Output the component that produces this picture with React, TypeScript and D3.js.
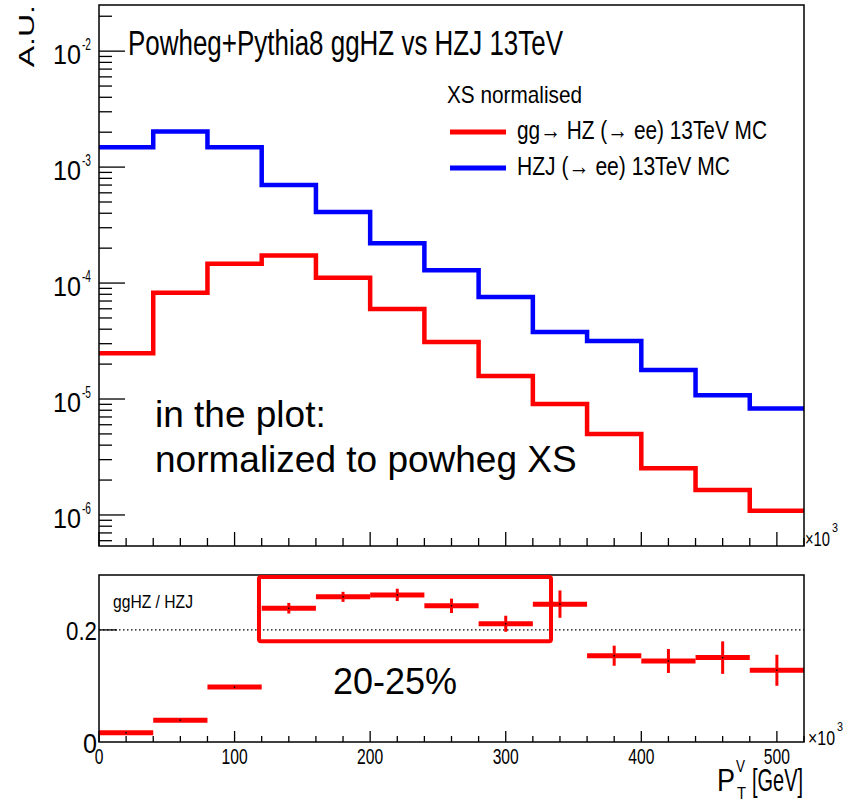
import React from "react";
import * as d3 from "d3";

// bins of pT (GeV)
const binEdges = [0, 40, 80, 120, 160, 200, 240, 280, 320, 360, 400, 440, 480, 520];
// gg -> HZ (-> ee) 13TeV MC
const ggHZ = [2.48e-5, 8.26e-5, 1.47e-4, 1.73e-4, 1.11e-4, 5.97e-5, 3.1e-5, 1.58e-5, 9.05e-6, 4.99e-6, 2.53e-6, 1.64e-6, 1.09e-6];
// HZJ (-> ee) 13TeV MC
const hzj = [1.48e-3, 2.03e-3, 1.48e-3, 7.0e-4, 4.09e-4, 2.2e-4, 1.29e-4, 7.57e-5, 3.78e-5, 3.16e-5, 1.78e-5, 1.08e-5, 8.3e-6];
// ggHZ / HZJ ratio and its errors
const ratio = [0.0167, 0.039, 0.098, 0.2387, 0.259, 0.2625, 0.243, 0.211, 0.246, 0.154, 0.1446, 0.1506, 0.128];
const ratioErr = [0.001, 0.0015, 0.002, 0.0095, 0.009, 0.011, 0.0128, 0.0143, 0.0244, 0.0179, 0.0214, 0.029, 0.0277];

const xTickLabels = [0, 100, 200, 300, 400, 500];
const yDecades = [-6, -5, -4, -3, -2];
const ratioRefLine = 0.2;
// the hand drawn box around the 20-25% region
const boxX = [118, 333.4];
const boxY = [0.18, 0.2946];

const RED = "#ff0000";
const BLUE = "#0000ff";
const FONT = "'Liberation Sans', Arial, Helvetica, sans-serif";

const left = 99, right = 804;
const top1 = 5, bot1 = 546;
const top2 = 575, bot2 = 742;

// ROOT text looks horizontally squeezed, so force the measured widths
const RText = ({ x, y, w, size, children }: any) => (
  <text x={x} y={y} fontSize={size} textLength={w} lengthAdjust="spacingAndGlyphs" fontFamily={FONT} fill="#000">
    {children}
  </text>
);

export default function App() {
  const x = d3.scaleLinear().domain([0, 520]).range([left, right]);
  const y = d3.scaleLog().domain([5.4e-7, 0.025]).range([bot1, top1]);
  const yr = d3.scaleLinear().domain([0, 0.298]).range([bot2, top2]);

  const step = d3
    .line<[number, number]>()
    .x((d) => x(d[0]))
    .y((d) => y(d[1]))
    .curve(d3.curveStepAfter);
  const pts = (vals: number[]) =>
    [...vals.map((v, i) => [binEdges[i], v] as [number, number]), [binEdges[vals.length], vals[vals.length - 1]] as [number, number]];

  // log minor ticks
  const [ymin, ymax] = y.domain();
  const minors: number[] = [];
  for (let e = -7; e <= -2; e++) {
    for (let k = 2; k <= 9; k++) {
      const v = k * Math.pow(10, e);
      if (v >= ymin && v <= ymax) minors.push(v);
    }
  }
  const xMinor = d3.range(0, 521, 20);

  return (
    <svg width={856} height={804} style={{ position: "absolute", left: 0, top: 0, background: "#fff" }}>
      <rect width={856} height={804} fill="#fff" />

      {/* ---------- top panel ---------- */}
      <g stroke="#000" strokeWidth={1.3}>
        {yDecades.map((e) => (
          <line key={e} x1={left} x2={left + 26} y1={y(Math.pow(10, e))} y2={y(Math.pow(10, e))} />
        ))}
        {minors.map((v, i) => (
          <line key={i} x1={left} x2={left + 13} y1={y(v)} y2={y(v)} />
        ))}
        {xMinor.map((v) => (
          <line key={v} x1={x(v)} x2={x(v)} y1={bot1} y2={bot1 - (v % 100 === 0 ? 14 : 8)} />
        ))}
      </g>

      <path d={step(pts(hzj)) || ""} fill="none" stroke={BLUE} strokeWidth={4.5} />
      <path d={step(pts(ggHZ)) || ""} fill="none" stroke={RED} strokeWidth={4.5} />

      <rect x={left} y={top1} width={right - left} height={bot1 - top1} fill="none" stroke="#000" strokeWidth={1.5} />

      {yDecades.map((e) => (
        <g key={e}>
          <RText x={53} y={y(Math.pow(10, e)) + 13} w={28} size={28}>10</RText>
          <RText x={82} y={y(Math.pow(10, e)) - 1} w={9} size={16}>{"-" + Math.abs(e)}</RText>
        </g>
      ))}

      <g transform={`translate(34,5) scale(0.7,1) rotate(-90)`}>
        <text x={0} y={0} fontSize={32} textAnchor="end" fontFamily={FONT}>A.U.</text>
      </g>

      <RText x={128} y={55} w={435} size={35}>Powheg+Pythia8 ggHZ vs HZJ 13TeV</RText>

      <RText x={447} y={103} w={135} size={24}>XS normalised</RText>
      <line x1={450} x2={506} y1={132} y2={132} stroke={RED} strokeWidth={5} />
      <RText x={517} y={139} w={250} size={25}>gg→ HZ (→ ee) 13TeV MC</RText>
      <line x1={450} x2={506} y1={168} y2={168} stroke={BLUE} strokeWidth={5} />
      <RText x={517} y={175} w={213} size={25}>HZJ (→ ee) 13TeV MC</RText>

      <RText x={805} y={546} w={25} size={21}>×10</RText>
      <RText x={832} y={532} w={6} size={13}>3</RText>

      <text x={155} y={427} fontSize={37} fontFamily={FONT}>in the plot:</text>
      <text x={155} y={472} fontSize={37} fontFamily={FONT}>normalized to powheg XS</text>

      {/* ---------- ratio panel ---------- */}
      <line x1={left} x2={right} y1={yr(ratioRefLine)} y2={yr(ratioRefLine)} stroke="#000" strokeWidth={1.2} strokeDasharray="1.5,2.5" />
      <g stroke="#000" strokeWidth={1.3}>
        <line x1={left} x2={left + 18} y1={yr(ratioRefLine)} y2={yr(ratioRefLine)} />
        {xMinor.map((v) => (
          <line key={v} x1={x(v)} x2={x(v)} y1={bot2} y2={bot2 - (v % 100 === 0 ? 11 : 6)} />
        ))}
      </g>

      {ratio.map((r, i) => {
        const cx = x((binEdges[i] + binEdges[i + 1]) / 2);
        return (
          <g key={i}>
            <line x1={x(binEdges[i])} x2={x(binEdges[i + 1])} y1={yr(r)} y2={yr(r)} stroke={RED} strokeWidth={5} />
            <line x1={cx} x2={cx} y1={yr(r - ratioErr[i])} y2={yr(r + ratioErr[i])} stroke={RED} strokeWidth={3} />
            <rect x={cx - 0.75} y={yr(r) - 0.75} width={1.5} height={1.5} fill="#000" />
          </g>
        );
      })}

      <rect x={left} y={top2} width={right - left} height={bot2 - top2} fill="none" stroke="#000" strokeWidth={1.5} />

      <rect
        x={x(boxX[0])}
        y={yr(boxY[1])}
        width={x(boxX[1]) - x(boxX[0])}
        height={yr(boxY[0]) - yr(boxY[1])}
        fill="none"
        stroke={RED}
        strokeWidth={4}
        rx={2}
      />

      <RText x={113} y={608} w={80} size={18}>ggHZ / HZJ</RText>
      <RText x={66} y={yr(ratioRefLine) + 10} w={31} size={26}>0.2</RText>
      <RText x={83} y={yr(0) + 11} w={14} size={28}>0</RText>

      {xTickLabels.map((v) => {
        const s = String(v);
        const w = s.length * 8.7;
        return (
          <RText key={v} x={x(v) - w / 2} y={764} w={w} size={22}>{s}</RText>
        );
      })}

      <RText x={808} y={745} w={27} size={21}>×10</RText>
      <RText x={837} y={731} w={6} size={13}>3</RText>

      <RText x={717} y={791} w={18} size={32}>P</RText>
      <RText x={736} y={772} w={9} size={17}>V</RText>
      <RText x={737} y={799} w={9} size={17}>T</RText>
      <RText x={752} y={791} w={51} size={32}>[GeV]</RText>

      <text x={333} y={694} fontSize={36} fontFamily={FONT}>20-25%</text>
    </svg>
  );
}
